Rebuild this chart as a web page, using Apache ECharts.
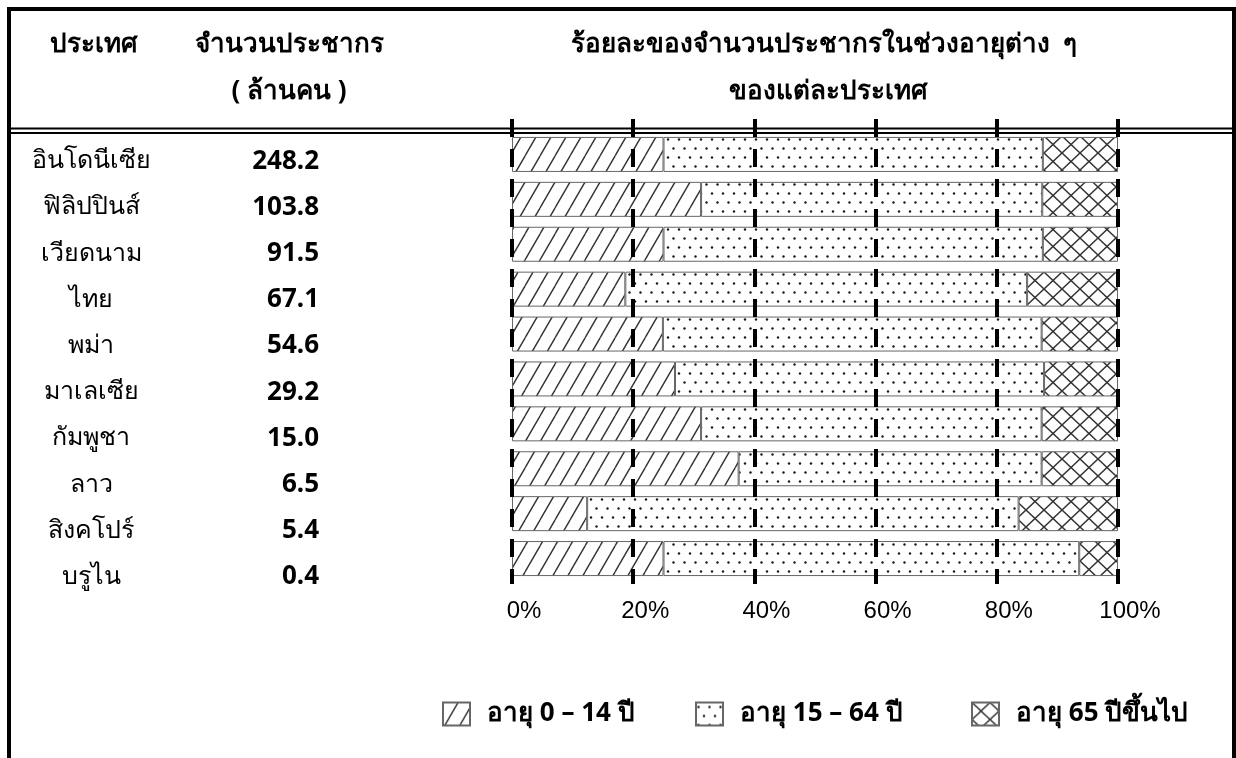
<!DOCTYPE html>
<html>
<head>
<meta charset="utf-8">
<script src="https://cdn.jsdelivr.net/npm/echarts@6/dist/echarts.min.js"></script>
<style>
html,body{margin:0;padding:0;background:#ffffff;}
#chart{width:1236px;height:758px;}
</style>
</head>
<body>
<div id="chart"></div>
<script>
// ---------- data ----------
const countries = ['อินโดนีเซีย', 'ฟิลิปปินส์', 'เวียดนาม', 'ไทย', 'พม่า', 'มาเลเซีย', 'กัมพูชา', 'ลาว', 'สิงคโปร์', 'บรูไน'];
const population = ['248.2', '103.8', '91.5', '67.1', '54.6', '29.2', '15.0', '6.5', '5.4', '0.4'];
const age0to14 = [25.0, 31.2, 25.0, 18.7, 24.9, 26.9, 31.2, 37.4, 12.4, 25.0];
const age15to64 = [62.6, 56.3, 62.6, 66.3, 62.5, 60.9, 56.2, 50.0, 71.2, 68.6];
const age65plus = [12.4, 12.5, 12.4, 15.0, 12.6, 12.2, 12.6, 12.6, 16.4, 6.4];
const seriesNames = ['อายุ 0 – 14 ปี', 'อายุ 15 – 64 ปี', 'อายุ 65 ปีขึ้นไป'];
const headerCountry = 'ประเทศ';
const headerPop1 = 'จำนวนประชากร';
const headerPop2 = '( ล้านคน )';
const headerPct1 = 'ร้อยละของจำนวนประชากรในช่วงอายุต่าง  ๆ';
const headerPct2 = 'ของแต่ละประเทศ';
const xMin = 0, xMax = 100, xInterval = 20;

// ---------- patterns ----------
function hatchPattern() {
  const w = 15, h = 26;
  const c = document.createElement('canvas');
  c.width = w; c.height = h;
  const g = c.getContext('2d');
  g.fillStyle = '#ffffff'; g.fillRect(0, 0, w, h);
  g.strokeStyle = '#333333'; g.lineWidth = 1.4;
  for (const x0 of [-w, 0, w]) {
    g.beginPath(); g.moveTo(x0, h); g.lineTo(x0 + w, 0); g.stroke();
  }
  return { image: c, repeat: 'repeat' };
}
function dotPattern() {
  const w = 11, h = 18;
  const c = document.createElement('canvas');
  c.width = w; c.height = h;
  const g = c.getContext('2d');
  g.fillStyle = '#ffffff'; g.fillRect(0, 0, w, h);
  g.fillStyle = '#1a1a1a';
  [[2.5, 4.5], [8, 13.5]].forEach(function (p) {
    g.beginPath(); g.arc(p[0], p[1], 1.2, 0, Math.PI * 2); g.fill();
  });
  return { image: c, repeat: 'repeat' };
}
function crossPattern() {
  const w = 18, h = 17;
  const c = document.createElement('canvas');
  c.width = w; c.height = h;
  const g = c.getContext('2d');
  g.fillStyle = '#ffffff'; g.fillRect(0, 0, w, h);
  g.strokeStyle = '#333333'; g.lineWidth = 1.5;
  g.beginPath(); g.moveTo(0, 0); g.lineTo(w, h); g.stroke();
  g.beginPath(); g.moveTo(w, 0); g.lineTo(0, h); g.stroke();
  return { image: c, repeat: 'repeat' };
}
const patterns = [hatchPattern(), dotPattern(), crossPattern()];
const seriesData = [age0to14, age15to64, age65plus];

const thaiFont = "'Noto Sans', 'DejaVu Sans', sans-serif";
const chart = echarts.init(document.getElementById('chart'), null, { renderer: 'canvas' });

const plotLeft = 512, plotWidth = 606;
const headStyle = { fontSize: 26, fontWeight: 'bold', fontFamily: thaiFont, fill: '#000', align: 'center', verticalAlign: 'middle' };

const option = {
  backgroundColor: '#ffffff',
  animation: false,
  grid: [
    { left: plotLeft, width: plotWidth, top: 132, height: 449 },   // bars
    { left: plotLeft, width: plotWidth, top: 119, height: 465 },   // dashed grid lines + labels
    { left: 319, width: 10, top: 138, height: 462 }                // table text
  ],
  xAxis: [
    { gridIndex: 0, type: 'value', min: xMin, max: xMax, show: false },
    {
      gridIndex: 1, type: 'value', min: xMin, max: xMax, interval: xInterval, z: 10,
      axisLine: { show: false }, axisTick: { show: false },
      splitLine: { show: true, lineStyle: { color: '#000', width: 4, type: [18, 12] } },
      axisLabel: {
        formatter: '{value}%', color: '#000', fontSize: 24, margin: 15,
        fontFamily: "'Liberation Sans', Arial, sans-serif",
        padding: [0, 0, 0, 24]
      }
    },
    { gridIndex: 2, type: 'value', min: 0, max: 1, show: false }
  ],
  yAxis: [
    { gridIndex: 0, type: 'category', data: countries, inverse: true, show: false },
    { gridIndex: 1, type: 'value', min: 0, max: 1, show: false },
    {
      gridIndex: 2, type: 'category', data: countries, inverse: true,
      axisLine: { show: false }, axisTick: { show: false }, splitLine: { show: false },
      axisLabel: { align: 'center', margin: 228, color: '#000', fontSize: 25, fontFamily: thaiFont }
    },
    {
      gridIndex: 2, type: 'category', data: population, inverse: true, position: 'left',
      axisLine: { show: false }, axisTick: { show: false }, splitLine: { show: false },
      axisLabel: { align: 'right', margin: 0, color: '#000', fontSize: 26, fontWeight: 'bold', fontFamily: thaiFont }
    }
  ],
  legend: [0, 1, 2].map(function (i) {
    return {
      data: [seriesNames[i]], left: [442, 695, 971][i], top: 701,
      itemWidth: 27, itemHeight: 23, icon: 'rect', padding: 0,
      textStyle: { color: '#000', fontSize: 26, fontWeight: 'bold', fontFamily: thaiFont, padding: [28, 0, 0, 12] },
      selectedMode: false
    };
  }),
  series: [0, 1, 2].map(function (i) {
    return {
      name: seriesNames[i], type: 'bar', stack: 'age', xAxisIndex: 0, yAxisIndex: 0,
      barWidth: 35, data: seriesData[i],
      itemStyle: { color: patterns[i], borderColor: '#666666', borderWidth: 1 },
      emphasis: { disabled: true }
    };
  }),
  graphic: [
    // outer frame
    { type: 'line', shape: { x1: 9, y1: 7, x2: 9, y2: 758 }, style: { stroke: '#000', lineWidth: 4 } },
    { type: 'line', shape: { x1: 7, y1: 9, x2: 1236, y2: 9 }, style: { stroke: '#000', lineWidth: 4 } },
    { type: 'line', shape: { x1: 1234, y1: 7, x2: 1234, y2: 758 }, style: { stroke: '#000', lineWidth: 4 } },
    // double separator
    { type: 'line', shape: { x1: 9, y1: 128.5, x2: 1234, y2: 128.5 }, style: { stroke: '#000', lineWidth: 2 } },
    { type: 'line', shape: { x1: 9, y1: 133, x2: 1234, y2: 133 }, style: { stroke: '#000', lineWidth: 2 } },
    // header texts
    { type: 'text', x: 94, y: 45, style: Object.assign({ text: headerCountry }, headStyle) },
    { type: 'text', x: 289, y: 45, style: Object.assign({ text: headerPop1 }, headStyle) },
    { type: 'text', x: 289, y: 92, style: Object.assign({ text: headerPop2 }, headStyle) },
    { type: 'text', x: 824, y: 45, style: Object.assign({ text: headerPct1 }, headStyle) },
    { type: 'text', x: 828, y: 92, style: Object.assign({ text: headerPct2 }, headStyle) }
  ]
};
chart.setOption(option);
</script>
</body>
</html>
